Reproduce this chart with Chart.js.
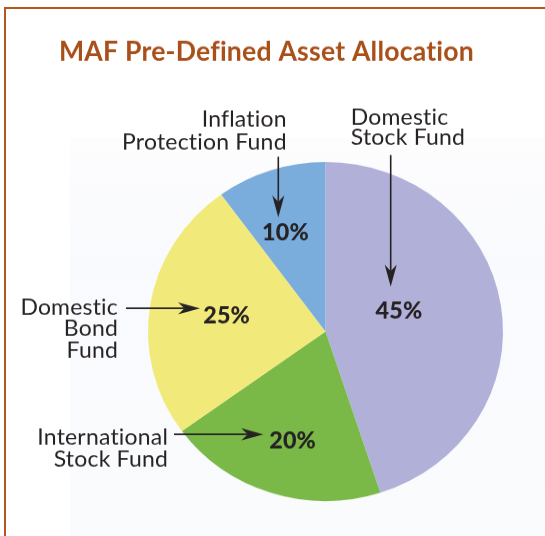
<!DOCTYPE html>
<html>
<head>
<meta charset="utf-8">
<script src="https://cdn.jsdelivr.net/npm/chart.js@4"></script>
<style>
  html, body { margin: 0; padding: 0; background: #ffffff; }
  #wrap { position: relative; width: 545px; height: 536px; overflow: hidden; background: #ffffff; }
  #bg { position: absolute; left: 70px; top: 138px; right: 0; bottom: 0;
        background: linear-gradient(#fdfdfe, #f9fafd 30%, #fafbfd); }
  #frame { position: absolute; left: 4px; top: 7px; width: 600px; height: 600px;
           border-left: 2px solid #b5561e; border-top: 2px solid #b5561e; }
  #c { position: absolute; left: 0; top: 0; transform-origin: 0 331.5px; transform: scaleY(0.955); }
</style>
</head>
<body>
<div id="wrap">
  <div id="bg"></div>
  <div id="frame"></div>
  <canvas id="c" width="545" height="536"></canvas>
</div>
<script>
// ---- data ----
const chartTitle = 'MAF Pre-Defined Asset Allocation';
const categories = ['Domestic Stock Fund', 'International Stock Fund', 'Domestic Bond Fund', 'Inflation Protection Fund'];
const allocation = [45, 20, 25, 10];

// ---- style ----
const sliceColors = ['#b1b0d8', '#7ab847', '#f1ea7b', '#7aacdc'];
const pctLabelRadius = [0.433, 0.668, 0.566, 0.628];
const pctLabelAngleShift = [-8.2, -1.9, 1.2, -3];
const calloutLines = [['Domestic', 'Stock Fund'], ['International', 'Stock Fund'], ['Domestic', 'Bond', 'Fund'], ['Inflation', 'Protection Fund']];
const calloutLayout = [
  { x: 350.8, align: 'left',  baselines: [125, 144.6] },
  { x: 168,   align: 'right', baselines: [445, 466.7] },
  { x: 118,   align: 'right', baselines: [314.5, 335.8, 357.3] },
  { x: 286.7, align: 'right', baselines: [126.7, 149.3] }
];
const arrows = [
  { from: [390.7, 155], to: [390.7, 286.7] },
  { from: [174, 434.3], to: [263.3, 434.3] },
  { from: [126, 308.3], to: [200, 308.3] },
  { from: [278.3, 156.7], to: [278.3, 217.3] }
];

const S = 0.955, Y0 = 331.5;
const INK = '#262223';

function fitSize(ctx, weight, family, str, targetW) {
  ctx.font = weight + ' 40px ' + family;
  return 40 * targetW / ctx.measureText(str).width;
}

function arrowhead(ctx, tip, from) {
  const dx = tip[0] - from[0], dy = tip[1] - from[1];
  const len = Math.hypot(dx, dy);
  const ux = dx / len, uy = dy / len, px = -uy, py = ux;
  const L = 22, W = 6, N = 6.5;
  ctx.beginPath();
  ctx.moveTo(tip[0], tip[1]);
  ctx.lineTo(tip[0] - ux * L + px * W, tip[1] - uy * L + py * W);
  ctx.lineTo(tip[0] - ux * (L - N), tip[1] - uy * (L - N));
  ctx.lineTo(tip[0] - ux * L - px * W, tip[1] - uy * L - py * W);
  ctx.closePath();
  ctx.fill();
  return [tip[0] - ux * (L - N), tip[1] - uy * (L - N)];
}

const annotations = {
  id: 'annotations',
  afterDraw(chart) {
    const ctx = chart.ctx;
    ctx.save();
    // draw in page coordinates (undo the vertical CSS squeeze)
    ctx.translate(0, Y0); ctx.scale(1, 1 / S); ctx.translate(0, -Y0);
    // break optional ligatures (fi, ti, ft) like the original typeface
    if ('letterSpacing' in ctx) ctx.letterSpacing = '0.2px';
    if ('fontVariantLigatures' in ctx) ctx.fontVariantLigatures = 'none';

    // title
    const ts = fitSize(ctx, 'bold', 'Lato', chartTitle, 413);
    ctx.font = 'bold ' + ts + 'px Lato';
    ctx.fillStyle = '#a94f19';
    ctx.textAlign = 'center';
    ctx.textBaseline = 'alphabetic';
    ctx.fillText(chartTitle, 266.5, 61);

    // callout labels
    const fs = fitSize(ctx, 'normal', 'Lato', 'Protection Fund', 163.4);
    ctx.font = fs + 'px Lato';
    ctx.fillStyle = INK;
    calloutLines.forEach((lines, i) => {
      const lay = calloutLayout[i];
      ctx.textAlign = lay.align;
      lines.forEach((ln, j) => ctx.fillText(ln, lay.x, lay.baselines[j]));
    });

    // arrows
    ctx.strokeStyle = INK;
    ctx.lineWidth = 1.6;
    arrows.forEach(a => {
      const end = arrowhead(ctx, a.to, a.from);
      ctx.beginPath();
      ctx.moveTo(a.from[0], a.from[1]);
      ctx.lineTo(end[0], end[1]);
      ctx.stroke();
    });

    // percentage labels, anchored on the arcs
    const ps = fitSize(ctx, '900', 'Lato', '45%', 46.7);
    ctx.font = '900 ' + ps + 'px Lato';
    ctx.textAlign = 'center';
    const halfCap = ctx.measureText('4').actualBoundingBoxAscent / 2;
    const meta = chart.getDatasetMeta(0);
    meta.data.forEach((arc, i) => {
      const p = arc.getProps(['x', 'y', 'startAngle', 'endAngle', 'outerRadius'], true);
      const mid = (p.startAngle + p.endAngle) / 2 + pctLabelAngleShift[i] * Math.PI / 180;
      const r = p.outerRadius * pctLabelRadius[i];
      const cxp = p.x + Math.cos(mid) * r;
      const cyc = p.y + Math.sin(mid) * r;
      const cyp = Y0 + (cyc - Y0) * S;
      ctx.fillText(allocation[i] + '%', cxp, cyp + halfCap);
    });
    ctx.restore();
  }
};

new Chart(document.getElementById('c'), {
  type: 'pie',
  data: {
    labels: categories,
    datasets: [{ data: allocation, backgroundColor: sliceColors, borderWidth: 0 }]
  },
  options: {
    responsive: false,
    animation: false,
    devicePixelRatio: 1,
    layout: { padding: { left: 148, right: 42, top: 154, bottom: 27 } },
    plugins: { legend: { display: false }, tooltip: { enabled: false }, title: { display: false } }
  },
  plugins: [annotations]
});
</script>
</body>
</html>
